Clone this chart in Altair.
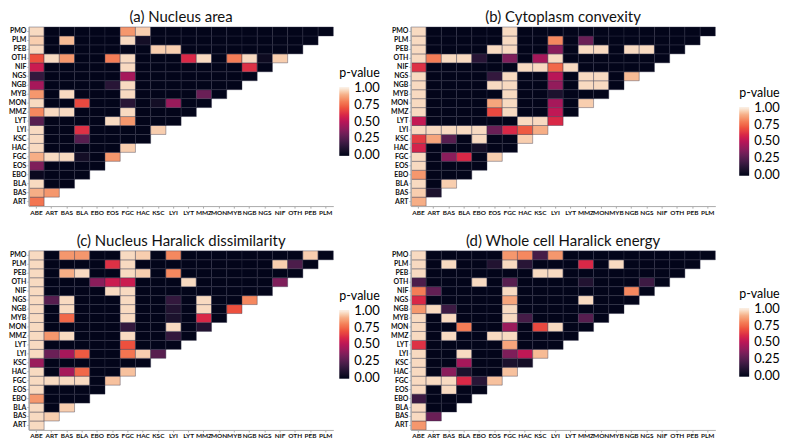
import altair as alt
import pandas as pd

categories = ["ABE", "ART", "BAS", "BLA", "EBO", "EOS", "FGC", "HAC", "KSC", "LYI",
              "LYT", "MMZ", "MON", "MYB", "NGB", "NGS", "NIF", "OTH", "PEB", "PLM", "PMO"]
x_labels = categories[:-1]
y_labels = categories[1:][::-1]

titles = ["(a) Nucleus area", "(b) Cytoplasm convexity",
          "(c) Nucleus Haralick dissimilarity", "(d) Whole cell Haralick energy"]

# rows ART .. PMO, values for columns ABE .. (row - 1)
nucleus_area = [
    [0.78],
    [0.9, 0.85],
    [0.97, 0, 0],
    [0.02, 0, 0, 0],
    [0.35, 0, 0, 0, 0],
    [0.9, 0.97, 0.97, 0.05, 0, 0.85],
    [0.97, 0, 0, 0, 0, 0, 0.95],
    [0.97, 0, 0, 0.25, 0, 0, 0, 0],
    [0.97, 0, 0, 0.62, 0, 0, 0, 0, 0.95],
    [0.25, 0, 0, 0, 0, 0.97, 0.85, 0, 0, 0],
    [0.82, 0.97, 0.97, 0, 0, 0, 0.97, 0, 0, 0, 0],
    [0.97, 0, 0, 0.68, 0, 0, 0.12, 0, 0.05, 0.42, 0, 0],
    [0.85, 0, 0.97, 0, 0, 0, 0.97, 0, 0, 0, 0, 0.3, 0],
    [0.45, 0, 0, 0, 0, 0.12, 0.97, 0, 0, 0, 0, 0, 0, 0],
    [0.15, 0, 0, 0, 0, 0, 0.45, 0, 0, 0, 0, 0, 0, 0, 0],
    [0.55, 0, 0, 0, 0, 0, 0.97, 0, 0, 0, 0, 0, 0, 0, 0.62, 0],
    [0.7, 0.97, 0.85, 0, 0, 0.8, 0.97, 0, 0, 0, 0.6, 0.97, 0, 0.8, 0.97, 0.03, 0.95],
    [0.97, 0, 0, 0, 0, 0, 0, 0, 0.95, 0.95, 0, 0, 0, 0, 0, 0, 0, 0],
    [0.95, 0, 0.92, 0, 0, 0, 0.97, 0.05, 0, 0, 0, 0, 0, 0, 0, 0, 0, 0, 0],
    [0.97, 0, 0, 0, 0, 0, 0.85, 0.95, 0, 0, 0, 0, 0, 0, 0, 0, 0, 0, 0, 0],
]

cytoplasm_convexity = [
    [0.9],
    [0.95, 0.08],
    [0.97, 0, 0.95],
    [0.85, 0, 0, 0],
    [0.97, 0, 0, 0, 0],
    [0.97, 0, 0.38, 0.6, 0, 0.95],
    [0.58, 0, 0, 0, 0.05, 0, 0],
    [0.65, 0.88, 0.25, 0, 0.97, 0, 0, 0.95],
    [0.97, 0.97, 0.97, 0.97, 0.97, 0.3, 0.6, 0.72, 0.9],
    [0.53, 0, 0, 0, 0, 0, 0, 0.97, 0.97, 0.6],
    [0.97, 0, 0, 0, 0, 0.68, 0.97, 0, 0, 0.52, 0],
    [0.97, 0, 0, 0, 0, 0.88, 0.97, 0, 0, 0.45, 0, 0.95],
    [0.97, 0, 0, 0, 0, 0, 0.97, 0, 0, 0.08, 0, 0, 0],
    [0.97, 0, 0, 0, 0, 0.97, 0.97, 0, 0, 0.4, 0, 0.97, 0.97, 0],
    [0.97, 0, 0, 0, 0, 0.15, 0.97, 0, 0, 0.5, 0, 0.97, 0.97, 0, 0.92],
    [0.62, 0, 0, 0, 0, 0, 0, 0.97, 0.97, 0.75, 0.97, 0, 0, 0, 0, 0],
    [0.97, 0.8, 0.97, 0.97, 0.12, 0, 0.35, 0, 0.45, 0.97, 0, 0, 0, 0, 0, 0, 0],
    [0.97, 0, 0, 0, 0, 0.97, 0.97, 0, 0, 0.38, 0, 0.97, 0.97, 0, 0.97, 0.97, 0, 0],
    [0.97, 0, 0, 0, 0, 0, 0.97, 0, 0, 0.82, 0, 0.3, 0, 0, 0, 0, 0, 0, 0],
    [0.97, 0, 0, 0, 0, 0, 0.97, 0, 0, 0, 0, 0, 0, 0, 0, 0, 0, 0, 0, 0],
]

nucleus_dissimilarity = [
    [0.97],
    [0.97, 0.95],
    [0.97, 0, 0.95],
    [0.85, 0, 0, 0],
    [0.97, 0, 0, 0, 0],
    [0.97, 0.97, 0.97, 0.97, 0, 0.93],
    [0.97, 0, 0.45, 0.75, 0, 0, 0.93],
    [0.42, 0, 0, 0, 0, 0, 0, 0],
    [0.97, 0.3, 0.45, 0.72, 0, 0, 0.78, 0.95, 0.25],
    [0.97, 0, 0, 0, 0, 0, 0.7, 0, 0, 0],
    [0.97, 0.85, 0.97, 0, 0, 0, 0.97, 0, 0, 0.15, 0],
    [0.97, 0, 0, 0, 0, 0, 0.15, 0, 0, 0.97, 0, 0.1],
    [0.97, 0, 0.75, 0, 0, 0, 0.97, 0, 0, 0.08, 0, 0.6, 0],
    [0.97, 0, 0.97, 0, 0, 0, 0.97, 0, 0, 0.1, 0, 0.97, 0, 0.7],
    [0.97, 0.25, 0.97, 0, 0, 0, 0.97, 0, 0, 0.15, 0, 0.97, 0, 0, 0.82],
    [0.97, 0, 0, 0, 0, 0.97, 0.97, 0, 0, 0, 0, 0, 0, 0, 0, 0],
    [0.97, 0, 0, 0, 0.38, 0.55, 0.55, 0, 0, 0, 0.97, 0, 0, 0, 0, 0, 0.35],
    [0.97, 0, 0.9, 0.97, 0, 0, 0.97, 0.95, 0, 0.82, 0, 0, 0, 0, 0, 0, 0, 0],
    [0.97, 0, 0, 0, 0, 0.62, 0.97, 0, 0, 0, 0, 0, 0, 0, 0, 0, 0.95, 0.22, 0],
    [0.97, 0, 0.85, 0.85, 0, 0, 0.97, 0.95, 0, 0.82, 0, 0, 0, 0, 0, 0, 0, 0, 0.95, 0],
]

cell_energy = [
    [0.85],
    [0.97, 0.3],
    [0.97, 0, 0],
    [0.18, 0, 0, 0],
    [0.97, 0, 0.97, 0, 0],
    [0.97, 0.97, 0.97, 0.6, 0.12, 0.93],
    [0.97, 0, 0.38, 0.08, 0, 0, 0.93],
    [0.97, 0, 0, 0.45, 0, 0, 0.08, 0.05],
    [0.97, 0, 0, 0.97, 0, 0, 0.35, 0.52, 0.92],
    [0.62, 0, 0, 0, 0, 0, 0.88, 0, 0, 0],
    [0.97, 0, 0.97, 0, 0, 0.97, 0.97, 0, 0, 0, 0],
    [0.97, 0, 0, 0.8, 0, 0, 0.42, 0, 0.68, 0.97, 0, 0],
    [0.97, 0, 0.97, 0, 0, 0, 0.97, 0.2, 0, 0, 0, 0.25, 0],
    [0.85, 0.97, 0.18, 0, 0, 0, 0.97, 0, 0, 0, 0, 0, 0, 0],
    [0.6, 0, 0, 0, 0, 0, 0.88, 0, 0, 0, 0, 0.97, 0, 0, 0],
    [0.8, 0.28, 0, 0, 0, 0, 0.97, 0, 0, 0, 0, 0, 0, 0, 0.82, 0],
    [0.22, 0, 0, 0, 0.97, 0, 0.25, 0, 0, 0, 0, 0.1, 0, 0, 0, 0.18, 0],
    [0.97, 0, 0, 0, 0, 0, 0, 0, 0.97, 0.97, 0, 0, 0, 0, 0, 0, 0, 0],
    [0.97, 0, 0.97, 0, 0, 0.1, 0.97, 0.12, 0, 0, 0, 0.6, 0, 0.97, 0, 0, 0, 0, 0],
    [0.97, 0, 0, 0, 0, 0, 0.85, 0.82, 0.2, 0.85, 0, 0, 0, 0, 0, 0, 0, 0, 0, 0],
]

# rocket colour map (slightly padded beyond 0 and 1 so the end labels sit centred)
rocket_domain = [-0.015, 0, 0.1, 0.2, 0.3, 0.4, 0.5, 0.6, 0.7, 0.8, 0.9, 1.0, 1.015]
rocket_range = ["#03051A", "#03051A", "#221331", "#451C47", "#6A1F56", "#921C5B", "#B91657",
                "#D92847", "#ED503E", "#F47D57", "#F6AE86", "#FAEBDD", "#FAEBDD"]

W, H = 306, 180


def build(rows):
    recs = []
    for r, vals in enumerate(rows, start=1):
        for c, v in enumerate(vals):
            recs.append({"x": categories[c], "y": categories[r], "p": v})
    return pd.DataFrame(recs)


def panel(rows, title, lx, ly):
    df = build(rows)
    return alt.Chart(df).mark_rect(stroke="#34344a", strokeWidth=0.4).encode(
        x=alt.X("x:N", sort=x_labels, scale=alt.Scale(domain=x_labels, paddingInner=0, paddingOuter=0),
                axis=alt.Axis(title=None, labelAngle=0, labelFontSize=6.5)),
        y=alt.Y("y:N", sort=y_labels, scale=alt.Scale(domain=y_labels, paddingInner=0, paddingOuter=0),
                axis=alt.Axis(title=None)),
        color=alt.Color("p:Q",
                        scale=alt.Scale(domain=rocket_domain, range=rocket_range),
                        legend=alt.Legend(title="p-value", orient="none", legendX=lx, legendY=ly,
                                          values=[0, 0.25, 0.5, 0.75, 1.0], format=".2f",
                                          gradientLength=69, gradientThickness=10,
                                          gradientStrokeWidth=0,
                                          titleFontSize=12.5, titleFontWeight="normal",
                                          titleFont="Lato", labelFont="Lato",
                                          labelFontSize=13, labelOffset=5, titlePadding=8,
                                          labelBaseline="middle",
                                          labelOverlap=False)),
    ).properties(width=W, height=H, title=alt.TitleParams(title))


pa = panel(nucleus_area, titles[0], W + 6, 40)
pb = panel(cytoplasm_convexity, titles[1], W + 24, 60)
pc = panel(nucleus_dissimilarity, titles[2], W + 6, 39)
pd_ = panel(cell_energy, titles[3], W + 24, 37)

chart = alt.concat(pa, pb, pc, pd_, columns=2, spacing={"row": 45, "column": 78},
                   bounds="flush").resolve_scale(
    color="independent"
).properties(
    padding={"left": 0, "top": 0, "right": 0, "bottom": 0}
).configure_view(stroke=None).configure_axis(
    labelFont="Lato", labelFontWeight="bold", labelFontSize=7, labelColor="#111111",
    domainColor="#aaaaaa", tickColor="#aaaaaa", tickSize=2, labelPadding=1, grid=False
).configure_title(
    font="Lato", fontSize=15, fontWeight="normal", anchor="middle", offset=2, color="#111111"
)

chart.save("out.html", embed_options={"renderer": "svg", "actions": False})
